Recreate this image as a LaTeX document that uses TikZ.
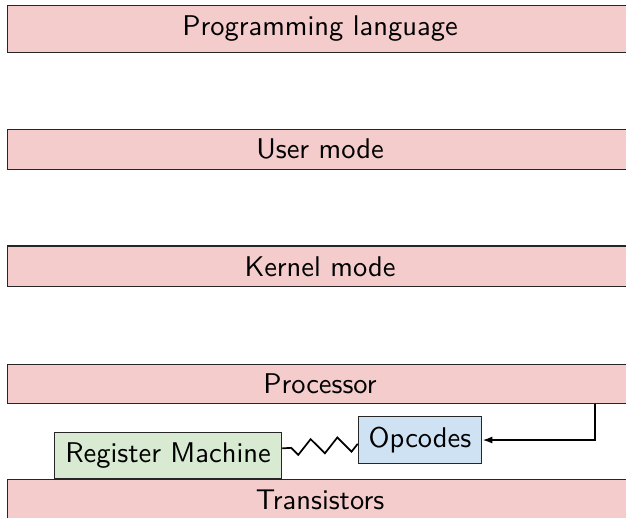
\documentclass[tikz,border=0pt]{standalone}
\usetikzlibrary{decorations.pathmorphing,arrows.meta}
\definecolor{barpink}{HTML}{F4CCCC}
\definecolor{boxgreen}{HTML}{D9EAD3}
\definecolor{boxblue}{HTML}{CFE2F3}
\newcommand{\bigtxt}[1]{\scalebox{2.85}{#1}}
\tikzset{
  layer/.style={draw=black!85, line width=1.1pt, fill=barpink, font=\sffamily,
    minimum width=625pt, inner xsep=0pt, inner ysep=0pt, anchor=center},
  smallbox/.style={draw=black!85, line width=1.1pt, font=\sffamily, inner sep=9.5pt, anchor=center},
  link/.style={line width=2.2pt, -{Latex[length=10pt,width=7pt]}},
  spring/.style={line width=1.7pt, decorate, decoration={zigzag, amplitude=7.5pt, segment length=26.7pt}}
}
\begin{document}
\begin{tikzpicture}[x=1pt,y=-1pt]
\useasboundingbox (0,0) rectangle (626,517);
\clip (0,0) rectangle (626,517);
\node[layer, minimum height=46.6pt] (pl) at (320,29) {\bigtxt{Programming language}};
\node[layer, minimum height=40.3pt] (um) at (320,149.2) {\bigtxt{User mode}};
\node[layer, minimum height=40.7pt] (km) at (320,266.3) {\bigtxt{Kernel mode}};
\node[layer, minimum height=39.3pt] (proc) at (320,383.7) {\bigtxt{Processor}};
\node[layer, minimum height=40pt] (tr) at (320,499.5) {\bigtxt{Transistors}};
\node[smallbox, fill=boxgreen, minimum width=227.4pt, minimum height=46pt] (rm) at (168,455.3) {\bigtxt{Register Machine}};
\node[smallbox, fill=boxblue, minimum width=123.4pt, minimum height=46.6pt] (op) at (420,440) {\bigtxt{Opcodes}};
\coordinate (tap) at (595,383.7);
\draw[link] (proc.south -| tap) |- (op);
\draw[spring] (op) -- (rm);
\end{tikzpicture}
\end{document}
